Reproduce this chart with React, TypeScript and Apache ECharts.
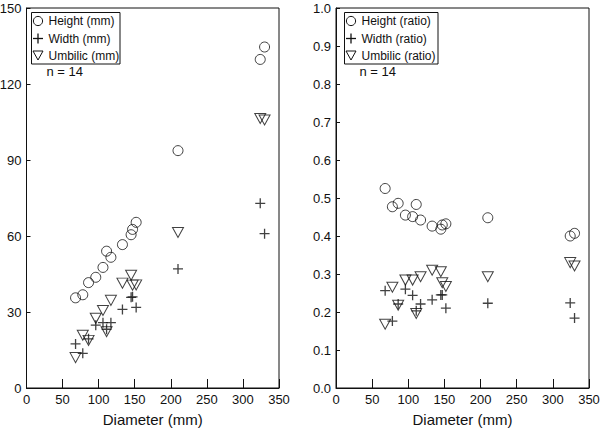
import React, { useEffect, useRef } from "react";
import * as echarts from "echarts";

// Diameter (mm) of the 14 specimens
const diameters = [68, 78, 86, 96, 106, 111, 117, 133, 145, 147, 152, 210, 324, 330];
// Left panel: absolute measurements (mm)
const heightMm = [35.6, 36.8, 41.6, 43.7, 47.6, 54.0, 51.6, 56.6, 60.5, 62.6, 65.4, 93.7, 129.7, 134.6];
const widthMm = [17.4, 13.7, 19.4, 24.8, 25.8, 23.2, 25.8, 31.0, 35.8, 36.0, 31.8, 47.0, 72.9, 60.9];
const umbilicMm = [12.0, 20.8, 18.8, 27.5, 30.6, 22.2, 34.6, 41.4, 44.5, 40.6, 40.7, 61.4, 106.4, 105.8];
// Right panel: ratios to diameter
const heightRatio = [0.525, 0.477, 0.486, 0.455, 0.451, 0.483, 0.442, 0.426, 0.418, 0.429, 0.432, 0.448, 0.4, 0.407];
const widthRatio = [0.256, 0.176, 0.221, 0.26, 0.244, 0.203, 0.221, 0.232, 0.245, 0.245, 0.21, 0.223, 0.224, 0.184];
const umbilicRatio = [0.168, 0.265, 0.218, 0.284, 0.284, 0.196, 0.293, 0.31, 0.306, 0.277, 0.267, 0.293, 0.33, 0.321];

const leftNames = ["Height (mm)", "Width (mm)", "Umbilic (mm)"];
const rightNames = ["Height (ratio)", "Width (ratio)", "Umbilic (ratio)"];
const nLabel = "n = 14";
const xName = "Diameter (mm)";

const FONT = "'Liberation Sans', Arial, Helvetica, sans-serif";
const INK = "#111";

const SYM_CIRCLE = "circle";
const SYM_PLUS = "path://M5,0L5,10M0,5L10,5";
const SYM_TRI = "path://M0,0L10,0L5,9Z";

function pairs(xs: number[], ys: number[]) {
  return xs.map((x, i) => [x, ys[i]]);
}

// A framed key drawn with graphic elements
function keyBox(x0: number, w: number, names: string[]) {
  const sx = x0 + 6.5;
  const rows = [21, 38.5, 55.5];
  const tx = x0 + 17;
  return {
    type: "group",
    children: [
      {
        type: "rect",
        shape: { x: x0, y: 12.5, width: w, height: 51.5 },
        style: { fill: "#fff", stroke: INK, lineWidth: 1 },
      },
      { type: "circle", shape: { cx: sx, cy: rows[0], r: 4.6 }, style: { fill: "none", stroke: INK, lineWidth: 1 } },
      { type: "line", shape: { x1: sx - 5, y1: rows[1], x2: sx + 5, y2: rows[1] }, style: { stroke: INK, lineWidth: 1.3 } },
      { type: "line", shape: { x1: sx, y1: rows[1] - 5, x2: sx, y2: rows[1] + 5 }, style: { stroke: INK, lineWidth: 1.3 } },
      {
        type: "polygon",
        shape: { points: [[sx - 5, rows[2] - 4.5], [sx + 5, rows[2] - 4.5], [sx, rows[2] + 4.5]] },
        style: { fill: "none", stroke: INK, lineWidth: 1 },
      },
      ...names.map((n, i) => ({
        type: "text",
        x: tx,
        y: rows[i],
        style: { text: n, font: `12px ${FONT}`, fill: INK, verticalAlign: "middle", align: "left" },
      })),
      {
        type: "text",
        x: x0 + 15,
        y: 71.5,
        style: { text: nLabel, font: `13px ${FONT}`, fill: INK, verticalAlign: "middle", align: "left" },
      },
    ],
  };
}

export default function App() {
  const ref = useRef<HTMLDivElement>(null);
  useEffect(() => {
    if (!ref.current) return;
    const chart = echarts.init(ref.current, undefined, { renderer: "svg" });

    const symbols = [SYM_CIRCLE, SYM_PLUS, SYM_TRI];
    const sizes: any[] = [10, 10, [11, 10]];
    const mkSeries = (name: string, idx: number, data: number[][], k: number) => ({
      type: "scatter",
      name,
      xAxisIndex: idx,
      yAxisIndex: idx,
      data,
      symbol: symbols[k],
      symbolSize: sizes[k],
      itemStyle: { color: "none", borderColor: INK, borderWidth: k === 1 ? 1.3 : 1 },
      emphasis: { disabled: true },
    });

    const xAxisBase = (gridIndex: number) => ({
      type: "value",
      gridIndex,
      min: 0,
      max: 350,
      interval: 50,
      name: xName,
      nameLocation: "middle",
      nameGap: 24,
      nameTextStyle: { fontFamily: FONT, fontSize: 15, color: INK },
      axisLine: { show: true, lineStyle: { color: INK, width: 1 } },
      axisTick: { show: true, inside: true, length: 9, lineStyle: { color: INK } },
      axisLabel: { fontFamily: FONT, fontSize: 13, color: INK, margin: 5 },
      splitLine: { show: false },
    });

    chart.setOption({
      animation: false,
      backgroundColor: "#fff",
      grid: [
        {
          left: 26.5, right: 321, top: 8, bottom: 40,
          outerBoundsMode: "none", containLabel: false,
          show: true, borderColor: INK, borderWidth: 1,
        },
        {
          left: 336, right: 11, top: 8, bottom: 40,
          outerBoundsMode: "none", containLabel: false,
          show: true, borderColor: INK, borderWidth: 1,
        },
      ],
      xAxis: [xAxisBase(0), xAxisBase(1)],
      yAxis: [
        {
          type: "value",
          gridIndex: 0,
          min: 0,
          max: 150,
          interval: 30,
          axisLine: { show: true, lineStyle: { color: INK } },
          axisTick: { show: true, inside: true, length: 4, lineStyle: { color: INK } },
          axisLabel: { fontFamily: FONT, fontSize: 13, color: INK, margin: 5 },
          splitLine: { show: false },
        },
        {
          type: "value",
          gridIndex: 1,
          min: 0,
          max: 1,
          interval: 0.1,
          axisLine: { show: true, lineStyle: { color: INK } },
          axisTick: { show: true, inside: true, length: 4, lineStyle: { color: INK } },
          axisLabel: {
            fontFamily: FONT,
            fontSize: 13,
            color: INK,
            margin: 5,
            formatter: (v: number) => v.toFixed(1),
          },
          splitLine: { show: false },
        },
      ],
      graphic: [keyBox(31.5, 88.5, leftNames), keyBox(344.5, 93.5, rightNames)],
      series: [
        mkSeries(leftNames[0], 0, pairs(diameters, heightMm), 0),
        mkSeries(leftNames[1], 0, pairs(diameters, widthMm), 1),
        mkSeries(leftNames[2], 0, pairs(diameters, umbilicMm), 2),
        mkSeries(rightNames[0], 1, pairs(diameters, heightRatio), 0),
        mkSeries(rightNames[1], 1, pairs(diameters, widthRatio), 1),
        mkSeries(rightNames[2], 1, pairs(diameters, umbilicRatio), 2),
      ],
    });
    return () => chart.dispose();
  }, []);

  return (
    <div
      ref={ref}
      style={{ position: "absolute", left: 0, top: 0, width: 600, height: 428 }}
    />
  );
}
